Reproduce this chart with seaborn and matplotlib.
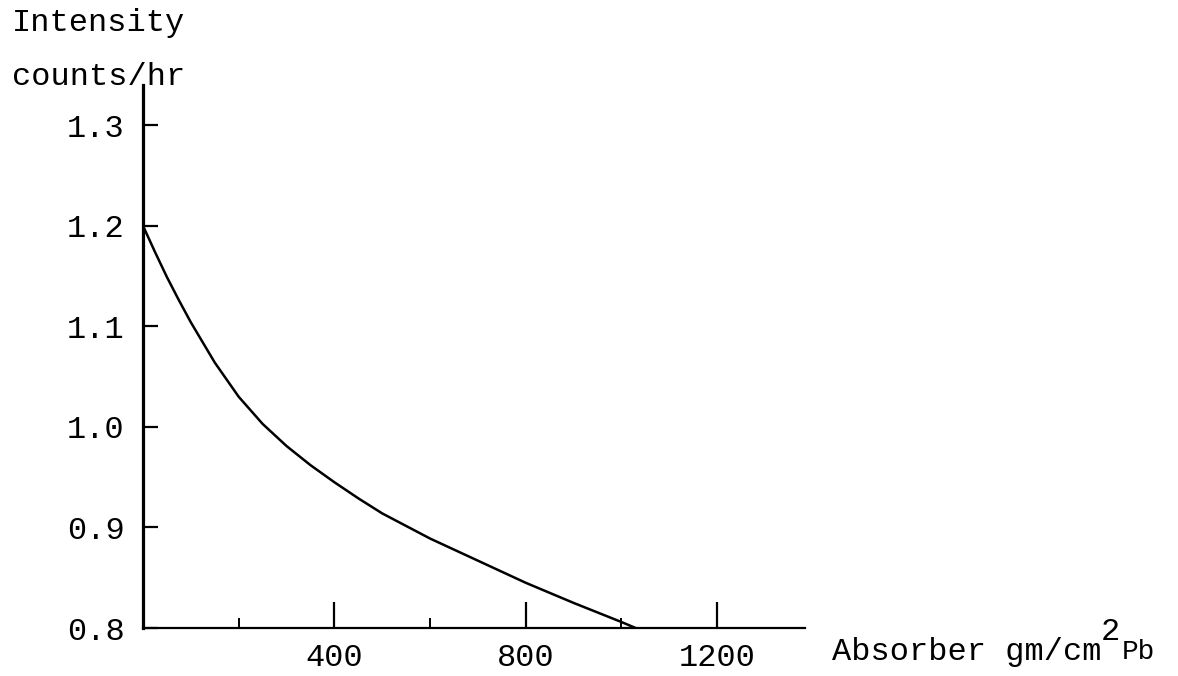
import matplotlib
matplotlib.use("Agg")
import matplotlib.pyplot as plt
import numpy as np
import pandas as pd
import seaborn as sns

# Data (absorber thickness vs intensity)
absorber = [0, 25, 50, 75, 100, 150, 200, 250, 300, 350, 400, 450, 500,
            600, 700, 800, 900, 1000, 1030]
intensity = [1.200, 1.174, 1.149, 1.126, 1.104, 1.064, 1.030, 1.003, 0.981,
             0.962, 0.945, 0.929, 0.914, 0.889, 0.867, 0.845, 0.825, 0.806,
             0.800]

x_major = [400, 800, 1200]
x_major_labels = ["400", "800", "1200"]
x_minor = [200, 600, 1000]
y_ticks = [0.8, 0.9, 1.0, 1.1, 1.2, 1.3]
y_labels = ["0.8", "0.9", "1.0", "1.1", "1.2", "1.3"]

sns.set_style("white")
plt.rcParams['font.family'] = ['Liberation Mono', 'DejaVu Sans Mono']
plt.rcParams['text.color'] = 'black'
plt.rcParams['lines.solid_capstyle'] = 'round'
plt.rcParams['lines.solid_joinstyle'] = 'round'

W, H = 1178, 676
fig = plt.figure(figsize=(W / 100, H / 100), dpi=100)
ax = fig.add_axes([143 / W, 48 / H, 662 / W, 543 / H])

df = pd.DataFrame({"absorber": absorber, "intensity": intensity})
sns.lineplot(data=df, x="absorber", y="intensity", ax=ax, color="black",
             linewidth=1.8)

ax.set_xlim(0, 1384)
ax.set_ylim(0.8, 1.34)

for s in ["top", "right"]:
    ax.spines[s].set_visible(False)
ax.spines["left"].set_linewidth(2.3)
ax.spines["bottom"].set_linewidth(1.6)
ax.spines["left"].set_color("black")
ax.spines["bottom"].set_color("black")

ax.set_xticks(x_major)
ax.set_xticklabels(x_major_labels)
ax.set_xticks(x_minor, minor=True)
ax.set_yticks(y_ticks)
ax.set_yticklabels(y_labels)

ax.tick_params(axis="x", which="major", direction="in", length=19, width=1.6,
               pad=11, labelsize=23, colors="black", bottom=True)
ax.tick_params(axis="x", which="minor", direction="in", length=7, width=1.4,
               bottom=True, colors="black")
ax.tick_params(axis="y", which="major", direction="in", length=11, width=1.6,
               pad=13, labelsize=23, colors="black", left=True)

ax.set_xlabel("")
ax.set_ylabel("")

# Axis titles (typewritten style)
fig.text(12 / W, 1 - 23 / H, "Intensity", fontsize=23, va="center",
         ha="left", color="black")
fig.text(12 / W, 1 - 77 / H, "counts/hr", fontsize=23, va="center",
         ha="left", color="black")

fig.text(832 / W, 1 - 660 / H, "Absorber gm/cm", fontsize=23,
         va="baseline", ha="left", color="black")
fig.text(1101 / W, 1 - 640 / H, "2", fontsize=23, va="baseline", ha="left",
         color="black")
fig.text(1122 / W, 1 - 659 / H, "Pb", fontsize=20, va="baseline", ha="left",
         color="black")

fig.savefig("out.png", dpi=100, facecolor="white")
